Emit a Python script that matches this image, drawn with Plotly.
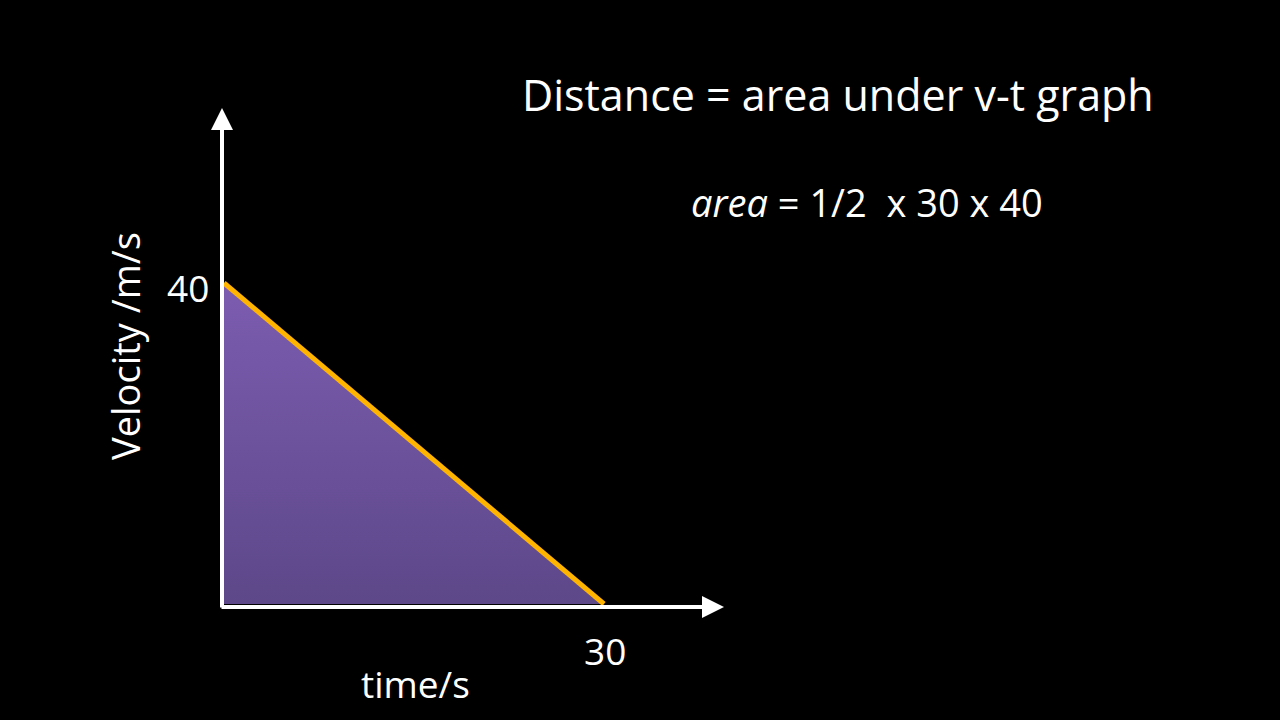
import plotly.graph_objects as go

# data
t_vals = [0, 30, 0]
v_vals = [40, 0, 0]
line_t = [0, 30]
line_v = [40, 0]
x_tick_label = "30"
y_tick_label = "40"
x_title = "time/s"
y_title = "Velocity /m/s"
title_text = "Distance = area under v-t graph"
formula_text = "<i>area</i> = 1/2  x 30 x 40"

W, H = 1280, 720
x0_px, x30_px = 224, 604
y0_px, y40_px = 604, 283
sx = (x30_px - x0_px) / 30.0
sy = (y0_px - y40_px) / 40.0
xr = [-x0_px / sx, (W - x0_px) / sx]
yr = [-(H - y0_px) / sy, y0_px / sy]

FONT = "Open Sans"

fig = go.Figure()
fig.add_trace(go.Scatter(
    x=t_vals, y=v_vals, mode="lines", fill="toself",
    line=dict(width=0, color="rgba(0,0,0,0)"),
    fillgradient=dict(type="vertical",
                      colorscale=[[0, "#5d4889"], [1, "#7c5cb0"]]),
    hoverinfo="skip", showlegend=False))
fig.add_trace(go.Scatter(
    x=line_t, y=line_v, mode="lines",
    line=dict(width=5, color="#ffb400"),
    hoverinfo="skip", showlegend=False))

def px2x(p):
    return (p - x0_px) / sx

def px2y(p):
    return (y0_px - p) / sy

ann = []
# axes arrows
ann.append(dict(x=px2x(222), y=px2y(108), ax=px2x(222), ay=px2y(609),
                xref="x", yref="y", axref="x", ayref="y", text="",
                showarrow=True, arrowhead=2, arrowsize=1.1, arrowwidth=4,
                arrowcolor="white"))
ann.append(dict(x=px2x(724), y=px2y(607), ax=px2x(220), ay=px2y(607),
                xref="x", yref="y", axref="x", ayref="y", text="",
                showarrow=True, arrowhead=2, arrowsize=1.1, arrowwidth=4,
                arrowcolor="white"))

def txt(text, cx, cy, size, angle=0):
    return dict(x=cx / W, y=1 - cy / H, xref="paper", yref="paper",
                text=text, showarrow=False, xanchor="center",
                yanchor="middle", textangle=angle,
                font=dict(family=FONT, size=size, color="white"))

ann.append(txt(title_text, 838, 95, 43))
ann.append(txt(formula_text, 867, 202, 38))
ann.append(txt(y_title, 125, 346, 38, -90))
ann.append(txt(y_tick_label, 188, 287, 37))
ann.append(txt(x_tick_label, 605, 650, 37))
ann.append(txt(x_title, 415, 683, 37))

fig.update_layout(
    width=W, height=H, margin=dict(l=0, r=0, t=0, b=0),
    paper_bgcolor="black", plot_bgcolor="black",
    xaxis=dict(range=xr, visible=False, fixedrange=True),
    yaxis=dict(range=yr, visible=False, fixedrange=True),
    annotations=ann, showlegend=False)

fig.write_html(
    "out.html",
    config={"displayModeBar": False},
    post_script="document.body.style.margin='0';"
                "document.body.style.overflow='hidden';"
                "document.body.style.background='black';")
